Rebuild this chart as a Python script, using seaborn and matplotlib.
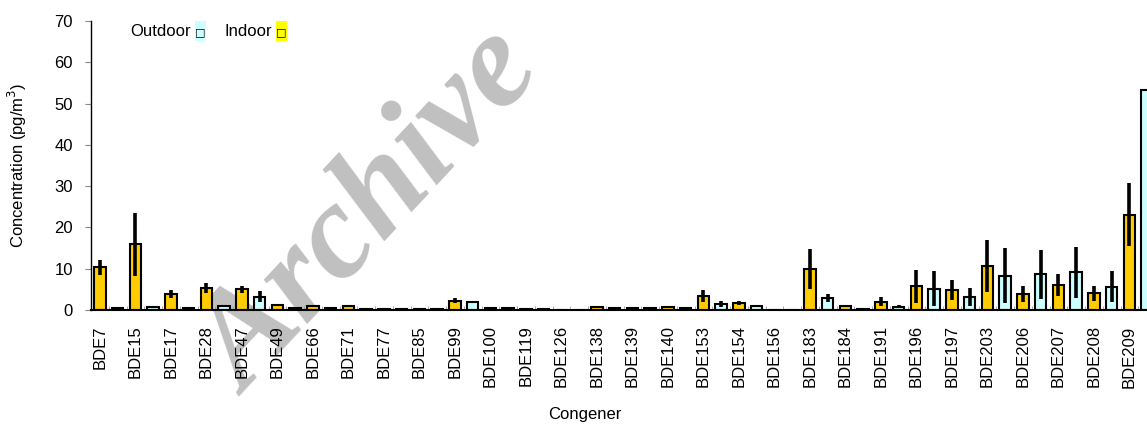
import numpy as np
import pandas as pd
import seaborn as sns
import matplotlib.pyplot as plt
from matplotlib.patches import Rectangle

# Congeners and values (pg/m3)
congeners = ['BDE7', 'BDE15', 'BDE17', 'BDE28', 'BDE47', 'BDE49', 'BDE66', 'BDE71',
             'BDE77', 'BDE85', 'BDE99', 'BDE100', 'BDE119', 'BDE126', 'BDE138',
             'BDE139', 'BDE140', 'BDE153', 'BDE154', 'BDE156', 'BDE183', 'BDE184',
             'BDE191', 'BDE196', 'BDE197', 'BDE203', 'BDE206', 'BDE207', 'BDE208',
             'BDE209']
indoor = [10.3, 15.9, 3.9, 5.3, 5.0, 1.2, 0.9, 1.0, 0.15, 0.15, 2.3, 0.5, 0.2, 0.1,
          0.7, 0.5, 0.8, 3.4, 1.7, 0.1, 10.0, 1.0, 2.0, 5.8, 4.9, 10.6, 3.9, 6.05,
          4.0, 23.1]
outdoor = [0.4, 0.8, 0.4, 1.0, 3.2, 0.5, 0.4, 0.2, 0.15, 0.15, 1.9, 0.5, 0.2, 0.1,
           0.5, 0.4, 0.5, 1.45, 1.0, 0.1, 2.9, 0.3, 0.8, 5.2, 3.15, 8.3, 8.6, 9.1,
           5.65, 53.3]
indoor_err = [1.9, 7.6, 0.9, 1.2, 0.8, 0.2, 0.1, 0.2, 0.0, 0.0, 0.6, 0.1, 0.0, 0.0,
              0.1, 0.1, 0.1, 1.45, 0.6, 0.0, 4.8, 0.2, 1.1, 4.0, 2.4, 6.3, 1.9, 2.7,
              1.85, 7.7]
# last one is cut off in the reference, so unknown
outdoor_err = [0.1, 0.2, 0.1, 0.2, 1.3, 0.1, 0.1, 0.05, 0.0, 0.0, 0.1, 0.1, 0.0, 0.0,
               0.1, 0.1, 0.1, 0.65, 0.2, 0.0, 1.0, 0.05, 0.3, 4.3, 2.2, 6.7, 5.9, 6.2,
               3.8, np.nan]

# one slot per bar: indoor then outdoor for each congener
rows = []
for c, vi, vo, ei, eo in zip(congeners, indoor, outdoor, indoor_err, outdoor_err):
    rows.append({'slot': c + ' in', 'site': 'Indoor', 'value': vi, 'err': ei})
    rows.append({'slot': c + ' out', 'site': 'Outdoor', 'value': vo, 'err': eo})
df = pd.DataFrame(rows)

plt.rcParams['font.family'] = ['Liberation Sans', 'DejaVu Sans']

fig = plt.figure(figsize=(11.47, 4.25), dpi=100)
ax = fig.add_axes([91 / 1147, 115 / 425, 1065 / 1147, 289 / 425])
ax.patch.set_visible(False)

sns.barplot(data=df, x='slot', y='value', hue='site', dodge=False,
            palette={'Indoor': '#FFCC00', 'Outdoor': '#CCFFFF'}, saturation=1,
            edgecolor='black', linewidth=1.5, width=0.65, errorbar=None,
            legend=False, ax=ax)
ok = df['err'].notna()
ax.errorbar(np.arange(len(df))[ok], df['value'][ok], yerr=df['err'][ok], fmt='none',
            ecolor='black', elinewidth=2.6, capsize=0, zorder=5)

ax.set_xlim(-0.5, len(df) - 0.5)
ax.set_ylim(0, 70)
ax.set_yticks(range(0, 71, 10))
ax.set_xticks(range(0, len(df), 2))
ax.set_xticklabels(congeners, rotation=90)
ax.set_xticks(np.arange(0.5, len(df) - 0.5, 1), minor=True)
ax.tick_params(axis='x', which='major', length=0, pad=11, labelsize=12)
ax.tick_params(axis='x', which='minor', direction='in', length=3, color='#999999')
ax.tick_params(axis='y', direction='out', length=4, color='#888888', pad=9,
               labelsize=12)

for s in ['top', 'right']:
    ax.spines[s].set_visible(False)
ax.spines['left'].set_linewidth(1)
ax.spines['bottom'].set_linewidth(1.5)

ax.set_xlabel('')
ax.set_ylabel('')
fig.text(17 / 1147, 1 - 165 / 425, 'Concentration (pg/m$^3$)', rotation=90,
         ha='center', va='center', fontsize=12)
fig.text(585 / 1147, 1 - 415 / 425, 'Congener', ha='center', va='center',
         fontsize=12)

# legend drawn as text with highlighted boxes
ly = 1 - 31 / 425
fig.text(130 / 1147, ly, 'Outdoor', ha='left', va='center', fontsize=12)
fig.patches.append(Rectangle((195 / 1147, 1 - 41 / 425), 11 / 1147, 20 / 425,
                             transform=fig.transFigure, facecolor='#CCFFFF',
                             edgecolor='none'))
fig.text(200.5 / 1147, 1 - 32 / 425, '\u25a1', ha='center', va='center', fontsize=8,
         family='DejaVu Sans')
fig.text(225 / 1147, ly, 'Indoor', ha='left', va='center', fontsize=12)
fig.patches.append(Rectangle((276 / 1147, 1 - 41 / 425), 11 / 1147, 20 / 425,
                             transform=fig.transFigure, facecolor='#FFFF00',
                             edgecolor='none'))
fig.text(281.5 / 1147, 1 - 32 / 425, '\u25a1', ha='center', va='center', fontsize=8,
         family='DejaVu Sans')

# watermark
fig.text(372 / 1147, 1 - 215 / 425, 'Archive', rotation=47, fontsize=98,
         family='Liberation Serif', weight='bold', style='italic',
         color='#C0C0C0', ha='center', va='center', zorder=-1)

fig.savefig('out.png', dpi=100)
